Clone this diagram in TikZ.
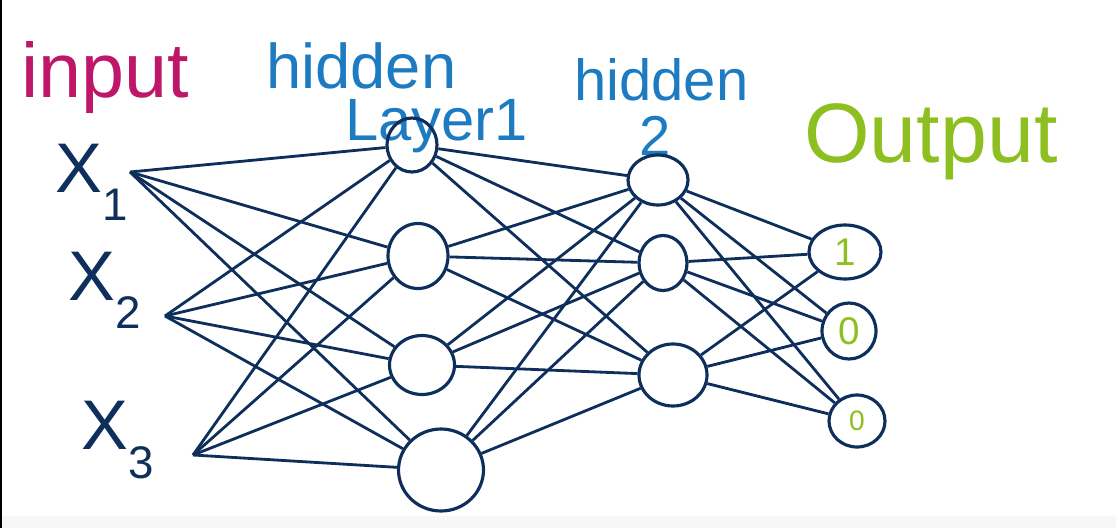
\documentclass[tikz,border=0pt]{standalone}
\usepackage{xcolor}
\usepackage{fontspec}
\setmainfont{Liberation Sans}
\usetikzlibrary{shapes.geometric, positioning}
\definecolor{inmagenta}{HTML}{BE1668}
\definecolor{hidblue}{HTML}{1D7BC1}
\definecolor{outgreen}{HTML}{8CBF1F}
\definecolor{netnavy}{HTML}{0E2E5B}
\tikzset{
    neuron/.style={draw=netnavy, ellipse, line width=1.8pt, inner sep=0pt},
    wire/.style={netnavy, line width=1.6pt},
    inlabel/.style={text=netnavy, font=\fontsize{40}{40}\selectfont},
    title/.style={font=\fontsize{#1}{#1}\selectfont, inner sep=0pt}
}
\newcommand{\lowsub}[1]{\raisebox{-.4em}{\fontsize{26}{26}\selectfont #1}}

\begin{document}
\begin{tikzpicture}[x=0.02cm, y=-0.02cm]
    \useasboundingbox (0,0) rectangle (1116,528);
    \fill[gray!6] (0,516) rectangle (1116,528);
    \fill[black] (0,0) rectangle (2,528);

    % Draw layer titles.
    \node[title=44, text=inmagenta] (intitle) at (105,78) {input};
    \node[title=36, text=hidblue, anchor=base west] (hidAtitle) at (266,88) {hidden};
    \node[title=34, text=hidblue, anchor=base west] (layAtitle) at (345,140) {Layer1};
    \node[title=33, text=hidblue, anchor=base west] (hidBtitle) at (574,100) {hidden};
    \node[title=32, text=hidblue] (hidBnum) at (655,136) {2};
    \node[title=48, text=outgreen, anchor=base west] (outtitle) at (804,162) {Output};

    % Draw input labels.
    \node[inlabel] (x1) at (92,182) {X\lowsub{1}};
    \node[inlabel] (x2) at (105,290) {X\lowsub{2}};
    \node[inlabel] (x3) at (118,440) {X\lowsub{3}};
    \coordinate (in1) at (130,172);
    \coordinate (in2) at (165,316);
    \coordinate (in3) at (193,455);

    % Draw hidden layer 1.
    \node[neuron, minimum width=1.0cm, minimum height=1.08cm] (h1) at (412,145) {};
    \node[neuron, minimum width=1.2cm, minimum height=1.3cm] (h2) at (418,256) {};
    \node[neuron, minimum width=1.3cm, minimum height=1.18cm] (h3) at (422,365) {};
    \node[neuron, minimum width=1.7cm, minimum height=1.64cm] (h4) at (441,470) {};

    % Draw hidden layer 2.
    \node[neuron, minimum width=1.2cm, minimum height=1.0cm] (g1) at (658,180) {};
    \node[neuron, minimum width=0.96cm, minimum height=1.1cm] (g2) at (663,263) {};
    \node[neuron, minimum width=1.36cm, minimum height=1.24cm] (g3) at (673,375) {};

    % Draw output layer.
    \node[neuron, text=outgreen, minimum width=1.44cm, minimum height=1.08cm,
        font=\fontsize{22}{22}\selectfont] (o1) at (845,252) {1};
    \node[neuron, text=outgreen, minimum width=1.08cm, minimum height=1.12cm,
        font=\fontsize{22}{22}\selectfont] (o2) at (849,331) {0};
    \node[neuron, text=outgreen, minimum width=1.12cm, minimum height=1.04cm,
        font=\fontsize{16}{16}\selectfont] (o3) at (857,421) {0};

    % Draw connections.
    \foreach \i in {1,2,3}
        \foreach \j in {1,2,3,4}
            \draw[wire] (in\i) -- (h\j);
    \foreach \i in {1,2,3,4}
        \foreach \j in {1,2,3}
            \draw[wire] (h\i) -- (g\j);
    \foreach \i in {1,2,3}
        \foreach \j in {1,2,3}
            \draw[wire] (g\i) -- (o\j);
\end{tikzpicture}
\end{document}
